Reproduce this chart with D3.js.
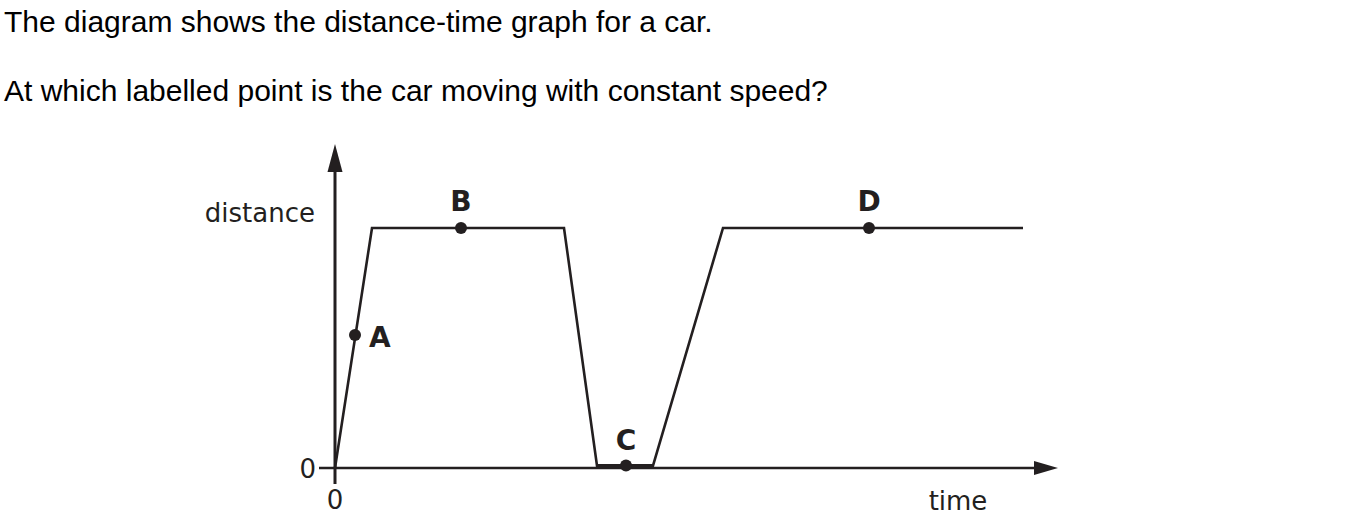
<!DOCTYPE html>
<html>
<head>
<meta charset="utf-8">
<script src="https://cdn.jsdelivr.net/npm/d3@7"></script>
<style>
  html, body { margin: 0; padding: 0; background: #fff; }
  svg { display: block; }
</style>
</head>
<body>
<svg id="chart" width="1355" height="521"></svg>
<script>
// ---- data ----
const questionLines = [
  "The diagram shows the distance-time graph for a car.",
  "At which labelled point is the car moving with constant speed?"
];
const pathTimes = [0, 3.7, 22.9, 26.2, 31.8, 38.8, 68.8];
const pathDistances = [0, 1, 1, 0.01, 0.01, 1, 1];
const pointLabels = ["A", "B", "C", "D"];
const pointTimes = [2.0, 12.6, 29.1, 53.4];
const pointDistances = [0.554, 1, 0.01, 1];
const axisLabels = { x: "time", y: "distance" };
const xTickLabels = ["0"];
const yTickLabels = ["0"];

// ---- layout ----
const svg = d3.select("#chart");
const ink = "#231f20";
const x = d3.scaleLinear().domain([0, 72.3]).range([335, 1058]);
const y = d3.scaleLinear().domain([0, 1.35]).range([468, 144]);

// question text
svg.selectAll("text.q").data(questionLines).join("text")
  .attr("class", "q")
  .attr("x", 4)
  .attr("y", (d, i) => 32 + i * 69)
  .attr("font-family", "Liberation Sans, Arial, sans-serif")
  .attr("font-size", 30)
  .attr("fill", "#000")
  .text(d => d);

// axes lines
const axisW = 3;
svg.append("line")
  .attr("x1", x(0)).attr("x2", x(0))
  .attr("y1", y(0) + 16).attr("y2", y(1.35) + 20)
  .attr("stroke", ink).attr("stroke-width", axisW);
svg.append("line")
  .attr("x1", x(0) - 16).attr("x2", x(72.3) - 18)
  .attr("y1", y(0)).attr("y2", y(0))
  .attr("stroke", ink).attr("stroke-width", 2.5);

// arrow heads
const yTop = y(1.35);
svg.append("path")
  .attr("d", `M${x(0)},${yTop} L${x(0) - 7.5},${yTop + 28} L${x(0) + 7.5},${yTop + 28} Z`)
  .attr("fill", ink);
const xEnd = x(72.3);
svg.append("path")
  .attr("d", `M${xEnd},${y(0)} L${xEnd - 24},${y(0) - 7} L${xEnd - 24},${y(0) + 7} Z`)
  .attr("fill", ink);

// tick labels
svg.selectAll("text.xt").data(xTickLabels).join("text")
  .attr("x", x(0)).attr("y", y(0) + 41)
  .attr("text-anchor", "middle")
  .attr("font-family", "DejaVu Sans, sans-serif").attr("font-size", 26)
  .attr("fill", ink).text(d => d);
svg.selectAll("text.yt").data(yTickLabels).join("text")
  .attr("x", x(0) - 19).attr("y", y(0) + 10)
  .attr("text-anchor", "end")
  .attr("font-family", "DejaVu Sans, sans-serif").attr("font-size", 26)
  .attr("fill", ink).text(d => d);

// axis labels
svg.append("text")
  .attr("x", 315).attr("y", 222)
  .attr("text-anchor", "end")
  .attr("font-family", "DejaVu Sans, sans-serif").attr("font-size", 26)
  .attr("fill", ink).text(axisLabels.y);
svg.append("text")
  .attr("x", 958).attr("y", 510)
  .attr("text-anchor", "middle")
  .attr("font-family", "DejaVu Sans, sans-serif").attr("font-size", 26)
  .attr("fill", ink).text(axisLabels.x);

// graph path
const pts = pathTimes.map((t, i) => [t, pathDistances[i]]);
svg.append("path")
  .datum(pts)
  .attr("d", d3.line().x(d => x(d[0])).y(d => y(d[1])))
  .attr("fill", "none")
  .attr("stroke", ink)
  .attr("stroke-width", 2.6)
  .attr("stroke-linejoin", "miter");
// thicker segment along the bottom (C)
svg.append("line")
  .attr("x1", x(pathTimes[3])).attr("x2", x(pathTimes[4]))
  .attr("y1", y(pathDistances[3]) + 0.5).attr("y2", y(pathDistances[4]) + 0.5)
  .attr("stroke", ink).attr("stroke-width", 4);

// points
const pdata = pointLabels.map((l, i) => ({ l, t: pointTimes[i], d: pointDistances[i] }));
svg.selectAll("circle.pt").data(pdata).join("circle")
  .attr("cx", d => x(d.t)).attr("cy", d => y(d.d))
  .attr("r", 6).attr("fill", ink);
const labelOffsets = { A: [14, 12, "start"], B: [0, -17, "middle"], C: [0, -16, "middle"], D: [0, -17, "middle"] };
svg.selectAll("text.pl").data(pdata).join("text")
  .attr("x", d => x(d.t) + labelOffsets[d.l][0])
  .attr("y", d => y(d.d) + labelOffsets[d.l][1])
  .attr("text-anchor", d => labelOffsets[d.l][2])
  .attr("font-family", "DejaVu Sans, sans-serif")
  .attr("font-weight", "bold")
  .attr("font-size", 28)
  .attr("fill", ink)
  .text(d => d.l);
</script>
</body>
</html>
